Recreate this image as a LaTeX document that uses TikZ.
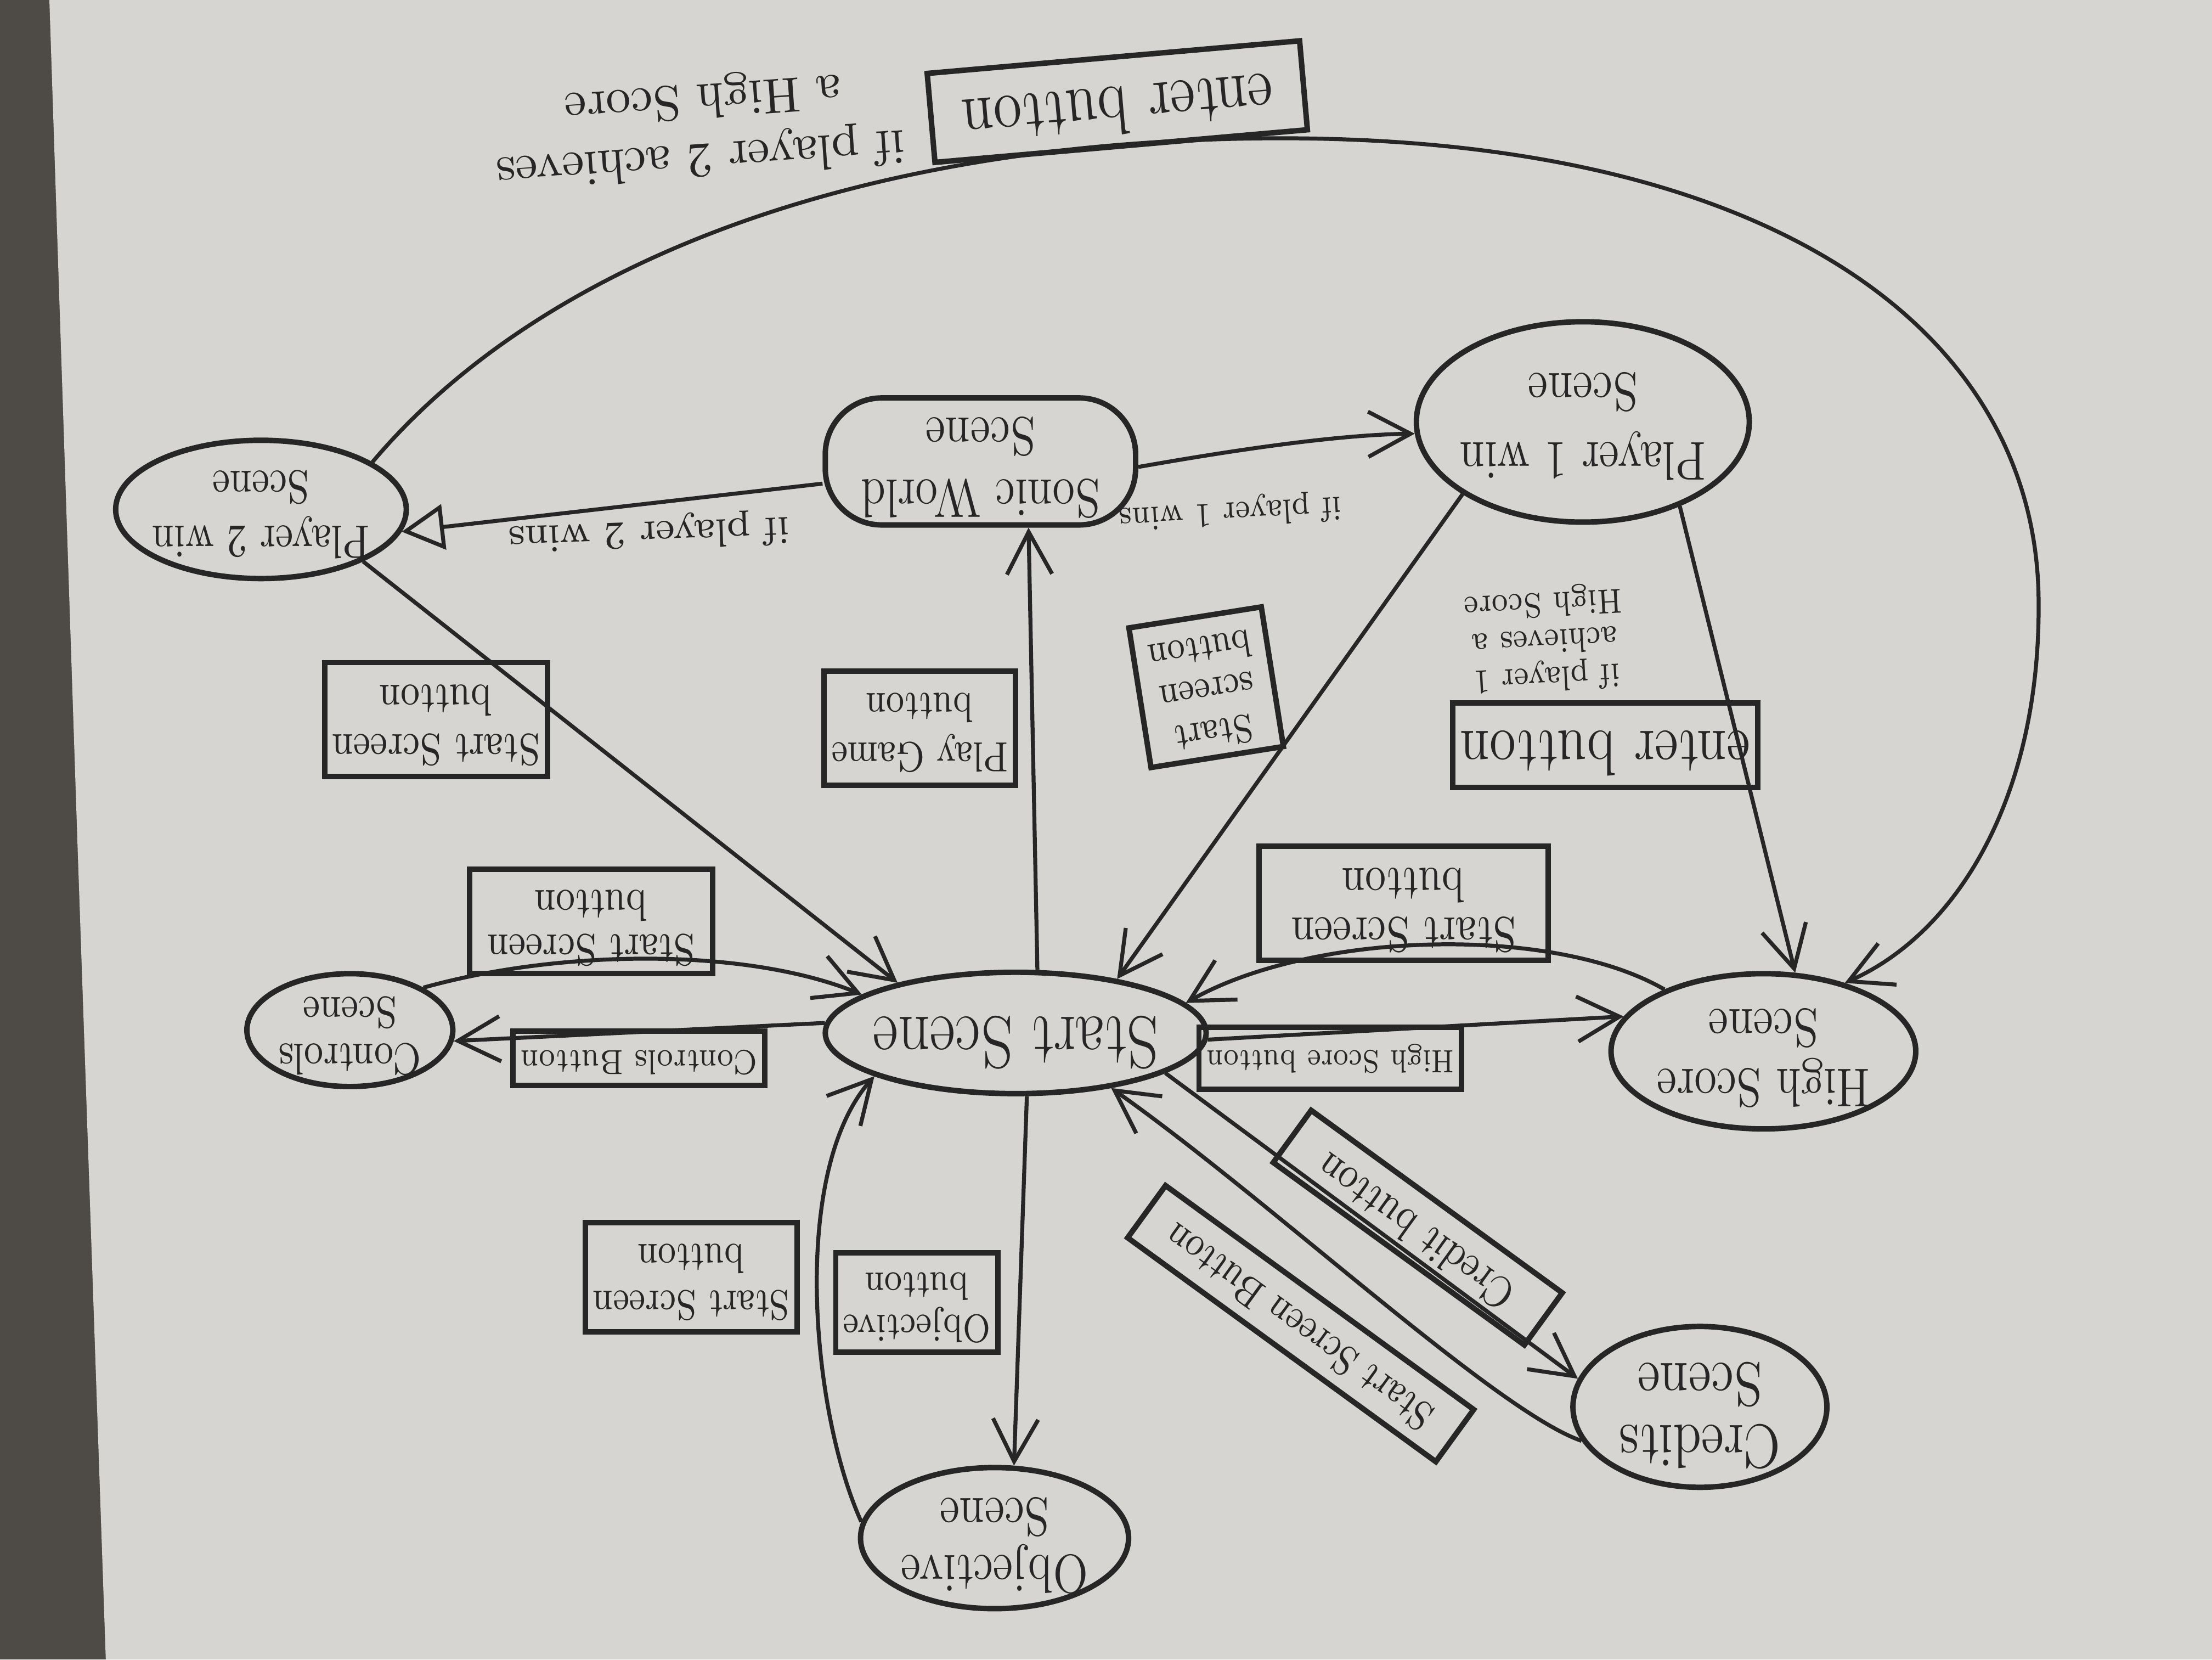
\documentclass[tikz,border=0pt]{standalone}
\usepackage{fontspec}
\usepackage{graphicx}
\usetikzlibrary{shapes.geometric,arrows.meta}
\definecolor{ink}{HTML}{262626}
\definecolor{paper}{HTML}{D6D5D1}
\definecolor{granite}{HTML}{4E4A45}
\newcommand\hfs[2]{\fontsize{#1}{#2}\selectfont}
\newcommand\nar[1]{\scalebox{0.84}[1]{\begin{tabular}{@{}c@{}}#1\end{tabular}}}
\begin{document}
\begin{tikzpicture}[x=0.1mm,y=-0.1mm,
  st/.style={draw=ink,line width=1.1pt,ellipse,inner sep=0pt},
  tx/.style={rotate=180,align=center,text=ink,inner sep=0pt},
  bx/.style={draw=ink,line width=1.1pt,rotate=180,align=center,text=ink,inner sep=1.5pt},
  sbx/.style={draw=ink,line width=1.1pt,text=ink,inner sep=1.5pt},
  free/.style={rotate=180,align=center,text=ink,inner sep=0pt},
  arr/.style={draw=ink,line width=0.8pt,-{Straight Barb[length=3mm,width=3.2mm]}},
  tarr/.style={draw=ink,line width=0.8pt,-{Triangle[open,length=3mm,width=3.2mm]}}]
\useasboundingbox (0,0) rectangle (1568,1176);
\fill[granite] (0,0) rectangle (1568,1176);
\fill[paper] (35,0) -- (1568,0) -- (1568,1176) -- (75,1176) -- (55,600) -- cycle;

% states
\node[st,minimum width=27mm,minimum height=8.6mm,
  label={[tx,font=\hfs{15}{16}]center:{\nar{Start Scene}}}] (start) at (720,732) {};
\node[st,minimum width=21.6mm,minimum height=11mm,
  label={[tx,font=\hfs{11}{12}]center:{\nar{High Score\\Scene}}}] (hs) at (1250,745) {};
\node[st,minimum width=18mm,minimum height=11.4mm,
  label={[tx,font=\hfs{12.5}{12.5}]center:{\nar{Credits\\Scene}}}] (credits) at (1205,997) {};
\node[st,minimum width=19mm,minimum height=10mm,
  label={[tx,font=\hfs{11}{11.5}]center:{\nar{Objective\\Scene}}}] (objective) at (705,1090) {};
\node[st,minimum width=14.6mm,minimum height=8mm,
  label={[tx,font=\hfs{9}{9.5}]center:{\nar{Controls\\Scene}}}] (controls) at (248,730) {};
\node[st,minimum width=20.6mm,minimum height=9.8mm,
  label={[tx,font=\hfs{9.5}{11}]center:{\nar{Player 2 win\\Scene}}}] (p2) at (185,361) {};
\node[draw=ink,line width=1.1pt,rectangle,rounded corners=4mm,inner sep=0pt,
  minimum width=22mm,minimum height=9mm,
  label={[tx,font=\hfs{11}{12.5}]center:{\nar{Sonic World\\Scene}}}] (sonic) at (695,327) {};
\node[st,minimum width=23.6mm,minimum height=14.2mm,
  label={[tx,font=\hfs{11}{14}]center:{\nar{Player 1 win\\Scene}}}] (p1) at (1122,299) {};

% connectors
\draw[arr] (start.177) -- (controls.-6);
\draw[arr] (controls.30) .. controls (400,672) and (530,672) .. (start.166);
\draw[arr] (p2.-27) -- (start.157);
\draw[arr] (start.71) -- (sonic.-54);
\draw[tarr] (sonic.188) -- (p2.-9);
\draw[arr] (sonic.-2) .. controls (880,318) and (950,308) .. (p1.184);
\draw[arr] (p1.211) -- (start.28);
\draw[arr] (p1.-41) -- (hs.68);
\draw[arr] (hs.148) .. controls (1100,655) and (930,660) .. (start.10);
\draw[arr] (start.-2) -- (hs.166);
\draw[arr] (p2.23) .. controls (380,190) and (600,100) .. (900,98)
  .. controls (1250,96) and (1440,230) .. (1445,420)
  .. controls (1448,560) and (1390,660) .. (hs.40);
\draw[arr] (start.-15) -- (credits.167);
\draw[arr] (credits.196) .. controls (1060,1000) and (900,850) .. (start.-30);
\draw[arr] (start.-80) -- (objective.75);
\draw[arr] (objective.173) .. controls (575,1000) and (560,830) .. (start.197);

% labels
\node[bx,font=\hfs{7}{8},minimum width=17mm,minimum height=3.2mm] (lb1) at (453,750) {\nar{Controls Button}};
\node[bx,font=\hfs{9}{9},minimum width=17.2mm,minimum height=5mm] (lb2) at (419,653) {\nar{Start Screen\\button}};
\node[bx,font=\hfs{9}{10},minimum width=15.2mm,minimum height=7.6mm] (lb3) at (309,510) {\nar{Start Screen\\button}};
\node[bx,font=\hfs{8.5}{10},minimum width=13.5mm,minimum height=6.7mm] (lb4) at (652,516) {\nar{Play Game\\button}};
\node[bx,rotate=9,font=\hfs{8}{8.5},minimum width=9.5mm,minimum height=8.5mm] (lb5) at (855,487) {\nar{Start\\screen\\button}};
\node[bx,font=\hfs{13}{14},minimum width=20.5mm,minimum height=4.5mm] (lb6) at (1138,528) {\nar{enter button}};
\node[free,rotate=3,font=\hfs{7}{7.5}] (lt1) at (1095,452) {\nar{if player 1\\achieves a\\High Score}};
\node[bx,font=\hfs{10}{10},minimum width=20.5mm,minimum height=6mm] (lb7) at (995,640) {\nar{Start Screen\\button}};
\node[bx,font=\hfs{6.5}{8},minimum width=17.5mm,minimum height=4.4mm] (lb8) at (943,750) {\nar{High Score button}};
\node[sbx,rotate=144,font=\hfs{9}{10},minimum width=22mm,minimum height=3.2mm] (lb9) at (1005,870) {\nar{Credit button}};
\node[sbx,rotate=144,font=\hfs{8.5}{10},minimum width=27mm,minimum height=3.5mm] (lb10) at (922,938) {\nar{Start Screen Button}};
\node[bx,font=\hfs{8}{8.5},minimum width=10mm,minimum height=6mm] (lb11) at (650,923) {\nar{Objective\\button}};
\node[bx,font=\hfs{8.5}{9.5},minimum width=15mm,minimum height=7mm] (lb12) at (490,905) {\nar{Start Screen\\button}};
\node[free,rotate=2,font=\hfs{8}{9}] (lt2) at (460,377) {if player 2 wins};
\node[free,rotate=3,font=\hfs{7}{8}] (lt3) at (872,362) {\nar{if player 1 wins}};
\node[bx,rotate=5,font=\hfs{14}{15},minimum width=26.5mm,minimum height=5.5mm] (lb13) at (792,72) {\nar{enter button}};
\node[free,rotate=4,align=left,font=\hfs{10}{12}] (lt4) at (495,90) {if player 2 achieves\\\hspace{1.2em}a High Score};
\end{tikzpicture}
\end{document}
